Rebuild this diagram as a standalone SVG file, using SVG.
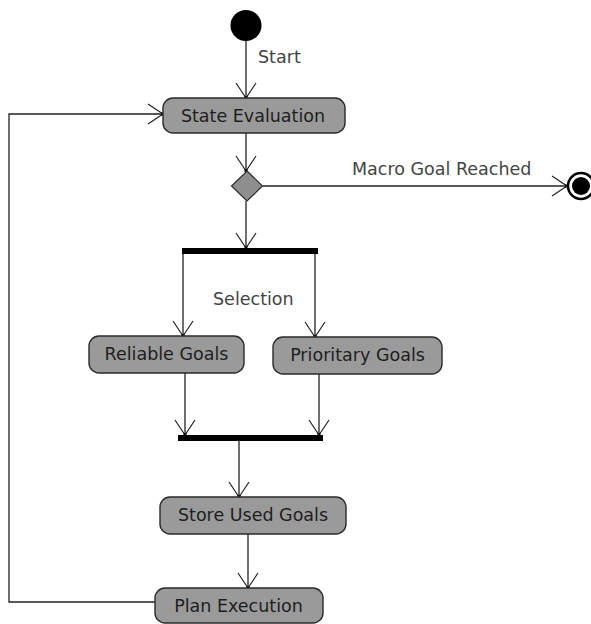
<svg xmlns="http://www.w3.org/2000/svg" width="591" height="624" viewBox="0 0 591 624">
<style>
.node{fill:#9a9a9a;stroke:#2a2a2a;stroke-width:1.4}
.nt{font-family:"DejaVu Sans",Verdana,sans-serif;font-size:17.5px;fill:#1e1e1e;text-anchor:middle}
.lb{font-family:"DejaVu Sans",Verdana,sans-serif;font-size:17.5px;fill:#444}
.edge{fill:none;stroke:#222;stroke-width:1.3}
.bar{fill:#000}
</style>
<defs>
<marker id="arr" viewBox="-17 -12 19 24" refX="0" refY="0" markerWidth="19" markerHeight="24" markerUnits="userSpaceOnUse" orient="auto" overflow="visible">
<path d="M-15,-10 L0,0 L-15,10" fill="none" stroke="#222" stroke-width="1.2"/>
<rect x="-2" y="-1.5" width="3" height="3" fill="#111"/>
</marker>
</defs>
<g id="connectors">
<line class="edge" x1="246" y1="41" x2="246" y2="98" marker-end="url(#arr)"/>
<line class="edge" x1="246" y1="133" x2="246" y2="171" marker-end="url(#arr)"/>
<line class="edge" x1="263" y1="186" x2="567" y2="186" marker-end="url(#arr)"/>
<line class="edge" x1="246" y1="201" x2="246" y2="248" marker-end="url(#arr)"/>
<polyline class="edge" points="183,251 183,336" marker-end="url(#arr)"/>
<polyline class="edge" points="315,251 315,337" marker-end="url(#arr)"/>
<line class="edge" x1="185" y1="373" x2="185" y2="435" marker-end="url(#arr)"/>
<line class="edge" x1="319" y1="374" x2="319" y2="435" marker-end="url(#arr)"/>
<line class="edge" x1="239" y1="441" x2="239" y2="497" marker-end="url(#arr)"/>
<line class="edge" x1="248" y1="534" x2="248" y2="588" marker-end="url(#arr)"/>
<polyline class="edge" points="155,602 9,602 9,114 163,114" marker-end="url(#arr)"/>
<text class="lb" x="258" y="63">Start</text>
<text class="lb" x="352" y="175">Macro Goal Reached</text>
<text class="lb" x="213" y="305">Selection</text>
</g>
<g id="start"><circle cx="246" cy="25.5" r="15.5" fill="#000"/></g>
<g id="state-evaluation">
<rect class="node" x="163" y="98" width="182" height="35" rx="10"/>
<text class="nt" x="253" y="122">State Evaluation</text>
</g>
<g id="decision"><polygon points="247,171 262.5,186 247,201 231.5,186" fill="#8e8e8e" stroke="#2a2a2a" stroke-width="1.2"/></g>
<g id="end">
<circle cx="581" cy="186" r="13" fill="#fff" stroke="#000" stroke-width="2.5"/>
<circle cx="581" cy="186" r="9" fill="#000"/>
</g>
<g id="fork"><rect class="bar" x="182" y="248" width="136" height="6"/></g>
<g id="reliable-goals">
<rect class="node" x="89" y="336" width="155" height="37" rx="10"/>
<text class="nt" x="166.5" y="360">Reliable Goals</text>
</g>
<g id="prioritary-goals">
<rect class="node" x="273" y="337" width="169" height="37" rx="10"/>
<text class="nt" x="357.5" y="361">Prioritary Goals</text>
</g>
<g id="join"><rect class="bar" x="178" y="435" width="145" height="6"/></g>
<g id="store-used-goals">
<rect class="node" x="160" y="497" width="186" height="37" rx="10"/>
<text class="nt" x="253" y="521">Store Used Goals</text>
</g>
<g id="plan-execution">
<rect class="node" x="155" y="588" width="168" height="35" rx="10"/>
<text class="nt" x="238.5" y="612">Plan Execution</text>
</g>
</svg>
